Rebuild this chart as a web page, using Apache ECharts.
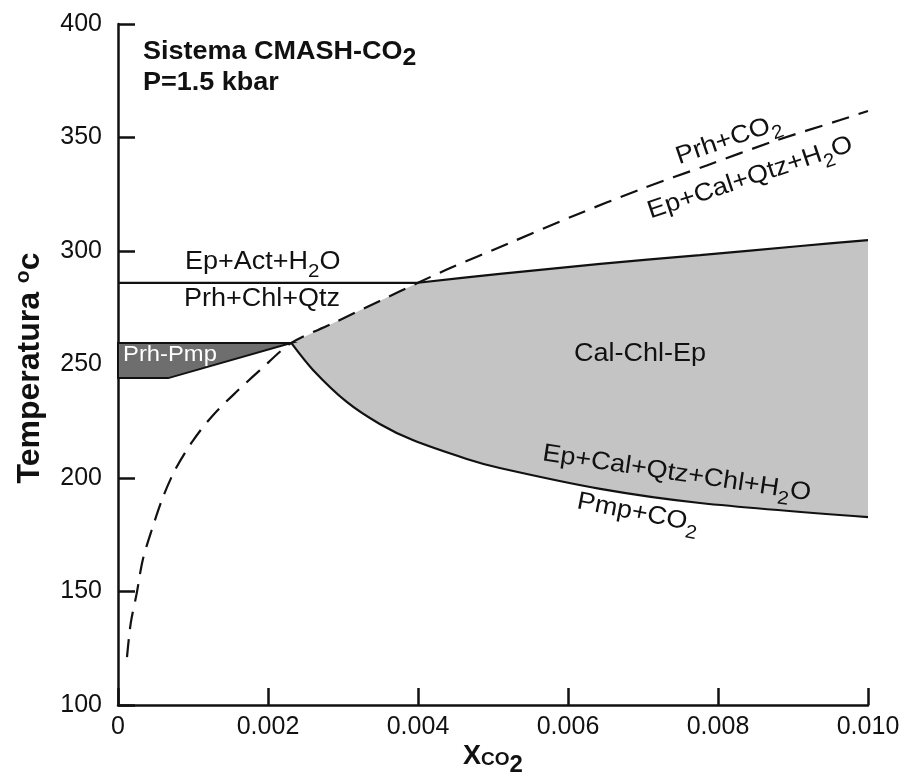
<!DOCTYPE html>
<html>
<head>
<meta charset="utf-8">
<script src="https://cdn.jsdelivr.net/npm/echarts@6/dist/echarts.min.js"></script>
<style>
    html, body { margin: 0; padding: 0; background: #ffffff; }
    #main { width: 910px; height: 777px; }
</style>
</head>
<body>
<div id="main"></div>
<script>
// Prh + CO2 = Ep + Cal + Qtz + H2O (dashed curve)
var prhCo2X = [0.00012, 0.00017, 0.00025, 0.00033, 0.00045, 0.0006, 0.00076, 0.001, 0.00127, 0.00159, 0.00189,
    0.00231, 0.00283, 0.00349, 0.0040, 0.00443, 0.00519, 0.00607, 0.00696, 0.00785, 0.00873, 0.00963, 0.0100];
var prhCo2T = [121.1, 136.1, 149.3, 163.9, 177.1, 191.6, 203.5, 216.5, 227.8, 238.3, 247.4,
    259.5, 267.6, 278.0, 286.0, 292.5, 303.1, 315.4, 327.1, 337.7, 348.2, 357.7, 361.7];

// Ep + Act + H2O = Prh + Chl + Qtz (flat part)
var prhChlX = [0, 0.0040];
var prhChlT = [286, 286];

// upper edge of the Cal-Chl-Ep field
var epActX = [0.0040, 0.00509, 0.00643, 0.00776, 0.0091, 0.0100];
var epActT = [286.0, 289.9, 294.3, 298.2, 302.2, 304.8];

// Pmp + CO2 = Ep + Cal + Qtz + Chl + H2O
var pmpCo2X = [0.00231, 0.0026, 0.00305, 0.00349, 0.00393, 0.00465, 0.00509, 0.00643, 0.00776, 0.0100];
var pmpCo2T = [259.5, 247.6, 233.5, 223.8, 216.7, 208.4, 204.4, 195.2, 189.0, 182.8];

// Prh-Pmp field
var prhPmpX = [0, 0.00231, 0.00067, 0];
var prhPmpT = [259.5, 259.5, 244, 244];

// annotations (text, anchor in data units, angle in degrees)
var labelText = ['Sistema CMASH-CO_2', 'P=1.5 kbar', 'Ep+Act+H_2O', 'Prh+Chl+Qtz', 'Prh-Pmp', 'Cal-Chl-Ep',
    'Prh+CO_2', 'Ep+Cal+Qtz+H_2O', 'Ep+Cal+Qtz+Chl+H_2O', 'Pmp+CO_2'];
var labelX = [0.000333, 0.000333, 0.00193, 0.00192, 0.000693, 0.00696, 0.00814, 0.00843, 0.00745, 0.00693];
var labelT = [387.7, 374.0, 295.2, 278.9, 254.2, 254.6, 349.0, 332.2, 202.0, 184.6];
var labelRot = [0, 0, 0, 0, 0, 0, 19, 18.5, -8.5, -11];

var FONT = 'Liberation Sans, Arial, Helvetica, sans-serif';
var INK = '#111111';

function pairs(xs, ts) {
    return xs.map(function (x, i) { return [x, ts[i]]; });
}

// Cal-Chl-Ep field outline: dashed curve from the invariant point, then upper edge, then lower curve back
var fieldPts = [];
prhCo2X.forEach(function (x, i) {
    if (x >= 0.00231 && x < 0.0040) fieldPts.push([x, prhCo2T[i]]);
});
fieldPts = fieldPts.concat(pairs(epActX, epActT), pairs(pmpCo2X, pmpCo2T).reverse());

function richLabel(str, bold, size, color) {
    var parts = str.split(/_(\d)/);
    var out = '';
    parts.forEach(function (p, i) {
        if (p === '') return;
        out += (i % 2 ? '{s|' : '{n|') + p + '}';
    });
    return {
        text: out,
        rich: {
            n: { fontSize: size, fontWeight: bold ? 'bold' : 'normal', fontFamily: FONT, fill: color, lineHeight: size + 6, verticalAlign: 'middle' },
            s: { fontSize: bold ? size - 2 : size - 6, fontWeight: bold ? 'bold' : 'normal', fontFamily: FONT, fill: color, lineHeight: size + 6, padding: [bold ? 14 : 19, 0, 0, 0], verticalAlign: 'middle' }
        }
    };
}

function polygonItem(pts, fill, stroke) {
    return function (params, api) {
        return {
            type: 'polygon',
            shape: { points: pts.map(function (p) { return api.coord(p); }) },
            style: { fill: fill, stroke: stroke || null, lineWidth: stroke ? 2 : 0 }
        };
    };
}

var chart = echarts.init(document.getElementById('main'));
var axisStyle = { show: true, lineStyle: { color: INK, width: 2.5 } };
var option = {
    animation: false,
    grid: { left: 118, right: 42, top: 24, bottom: 72, outerBoundsMode: 'none', containLabel: false },
    xAxis: {
        type: 'value',
        min: 0,
        max: 0.01,
        interval: 0.002,
        axisLine: axisStyle,
        axisTick: { show: true, inside: true, length: 17, lineStyle: { color: INK, width: 2.5 } },
        splitLine: { show: false },
        axisLabel: {
            margin: 10,
            color: INK,
            fontSize: 25,
            fontFamily: FONT,
            formatter: function (v) { return v === 0 ? '0' : v.toFixed(3); }
        },
        name: '{x|X}{co|CO}{sub|2}',
        nameLocation: 'middle',
        nameGap: 37,
        nameMoveOverlap: false,
        nameTextStyle: {
            rich: {
                x: { fontSize: 27, fontWeight: 'bold', fontFamily: FONT, color: INK, lineHeight: 30, verticalAlign: 'middle' },
                co: { fontSize: 19, fontWeight: 'bold', fontFamily: FONT, color: INK, lineHeight: 30, padding: [6, 0, 0, 0], verticalAlign: 'middle' },
                sub: { fontSize: 24, fontWeight: 'bold', fontFamily: FONT, color: INK, lineHeight: 30, padding: [16, 0, 0, 0], verticalAlign: 'middle' }
            },
            fontSize: 27,
            fontWeight: 'bold',
            fontFamily: FONT,
            color: INK
        }
    },
    yAxis: {
        type: 'value',
        min: 100,
        max: 400,
        interval: 50,
        axisLine: axisStyle,
        axisTick: { show: true, inside: true, length: 17, lineStyle: { color: INK, width: 2.5 } },
        splitLine: { show: false },
        axisLabel: { margin: 16, color: INK, fontSize: 25, fontFamily: FONT },
        name: 'Temperatura {sup|o}c',
        nameLocation: 'middle',
        nameGap: 70,
        nameMoveOverlap: false,
        nameTextStyle: {
            fontSize: 32,
            fontWeight: 'bold',
            fontFamily: FONT,
            color: INK,
            lineHeight: 36,
            padding: [0, 7, 0, 0],
            rich: {
                sup: { fontSize: 21, fontWeight: 'bold', fontFamily: FONT, color: INK, lineHeight: 36, padding: [0, 0, 14, 0], verticalAlign: 'middle' }
            }
        }
    },
    series: [
        {
            name: 'Cal-Chl-Ep',
            type: 'custom',
            z: 1,
            data: [[0.005, 250]],
            renderItem: polygonItem(fieldPts, '#c4c4c4')
        },
        {
            name: 'Prh-Pmp',
            type: 'custom',
            z: 2,
            data: [[0.001, 250]],
            renderItem: polygonItem(pairs(prhPmpX, prhPmpT), '#6e6e6e', INK)
        },
        {
            name: 'Prh+CO2',
            type: 'line',
            z: 3,
            showSymbol: false,
            smooth: 0.3,
            lineStyle: { color: INK, width: 2.2, type: [18, 10] },
            data: pairs(prhCo2X, prhCo2T)
        },
        {
            name: 'Prh+Chl+Qtz',
            type: 'line',
            z: 3,
            showSymbol: false,
            lineStyle: { color: INK, width: 2.2 },
            data: pairs(prhChlX, prhChlT)
        },
        {
            name: 'Ep+Act',
            type: 'line',
            z: 3,
            showSymbol: false,
            smooth: 0.3,
            lineStyle: { color: INK, width: 2.2 },
            data: pairs(epActX, epActT)
        },
        {
            name: 'Pmp+CO2',
            type: 'line',
            z: 3,
            showSymbol: false,
            smooth: 0.3,
            lineStyle: { color: INK, width: 2.2 },
            data: pairs(pmpCo2X, pmpCo2T)
        },
        {
            name: 'labels',
            type: 'custom',
            z: 5,
            data: pairs(labelX, labelT),
            renderItem: function (params, api) {
                var i = params.dataIndex;
                var pt = api.coord([api.value(0), api.value(1)]);
                var bold = i < 2;
                var white = i === 4;
                var r = richLabel(labelText[i], bold, white ? 22 : 25, white ? '#ffffff' : INK);
                return {
                    type: 'text',
                    x: pt[0],
                    y: pt[1],
                    rotation: labelRot[i] * Math.PI / 180,
                    scaleX: 1.08,
                    style: {
                        text: r.text,
                        rich: r.rich,
                        align: bold ? 'left' : 'center',
                        verticalAlign: 'middle'
                    }
                };
            }
        }
    ]
};
chart.setOption(option);
window.addEventListener('resize', function () {
    chart.resize();
});
</script>
</body>
</html>
